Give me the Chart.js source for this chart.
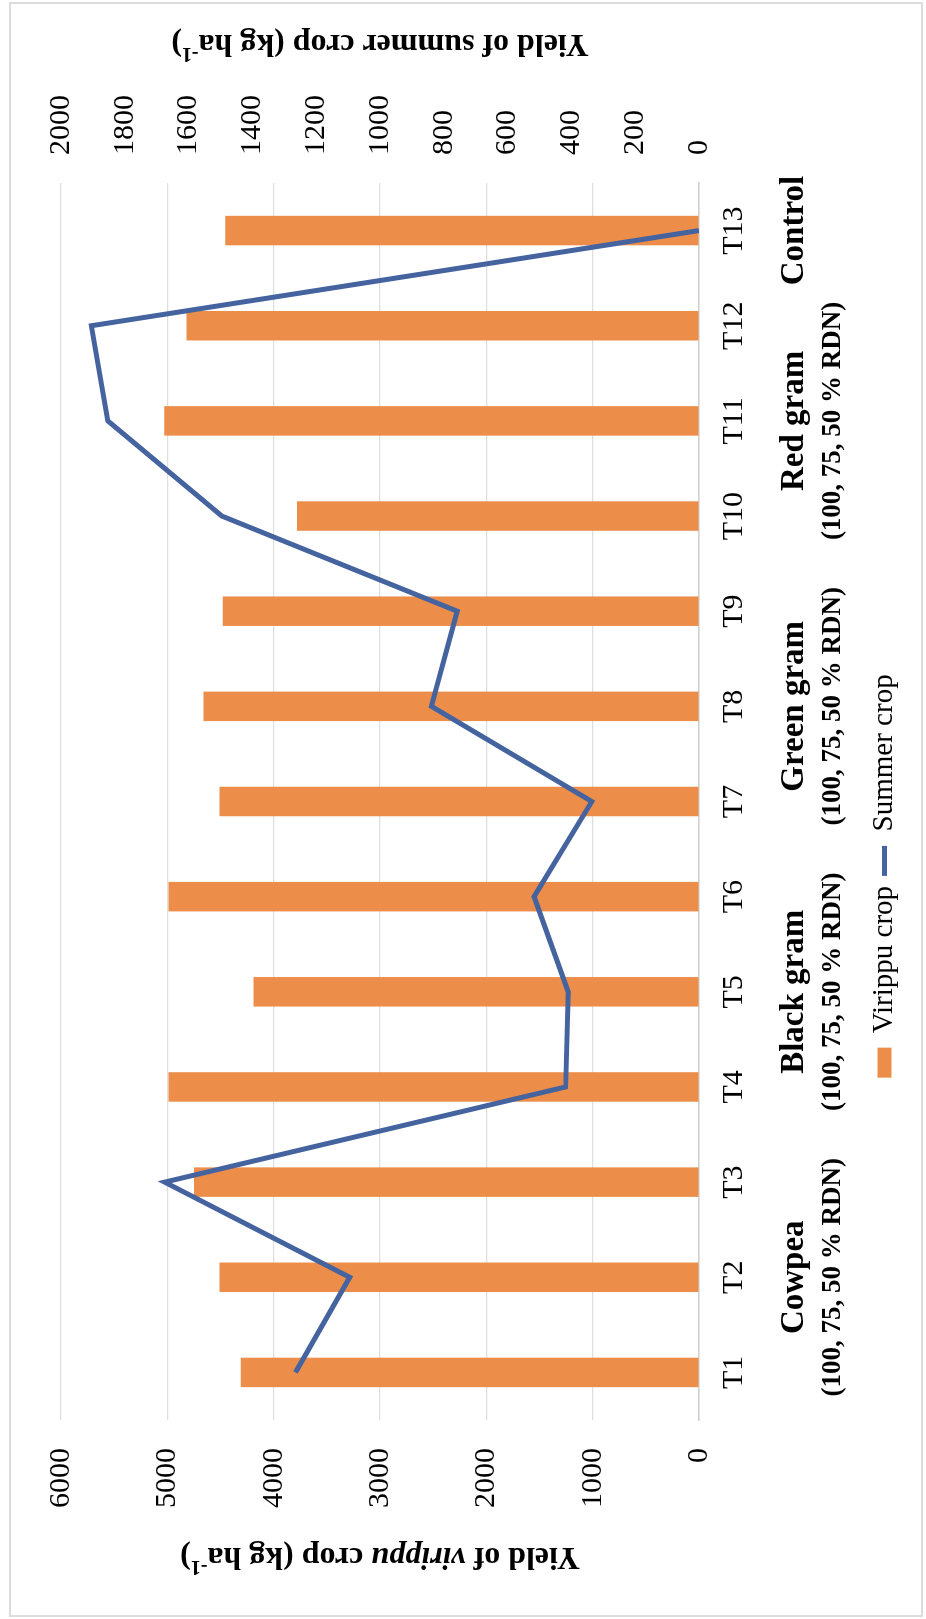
<!DOCTYPE html>
<html>
<head>
<meta charset="utf-8">
<script src="https://cdn.jsdelivr.net/npm/chart.js@4.4.1/dist/chart.umd.min.js"></script>
<style>
  html, body { margin: 0; padding: 0; background: #ffffff; overflow: hidden; width: 926px; height: 1619px; }
  #frame { position: absolute; left: 9px; top: 2px; width: 910px; height: 1611px; border: 2px solid #dcdcdc; }
  #wrap { position: absolute; left: 0; top: 0; width: 1619px; height: 926px;
          transform-origin: 0 0; transform: translate(0px, 1619px) rotate(-90deg); }
  canvas { display: block; }
</style>
</head>
<body>
<div id="frame"></div>
<div id="wrap"><canvas id="c" width="1619" height="926"></canvas></div>
<script>
// ---- data ----
const categories = ['T1','T2','T3','T4','T5','T6','T7','T8','T9','T10','T11','T12','T13'];
const virippuYield = [4310, 4510, 4750, 4990, 4190, 4990, 4510, 4660, 4480, 3780, 5030, 4820, 4455];
const summerYield  = [1265, 1095, 1675, 418, 410, 517, 336, 839, 758, 1496, 1853, 1905, 0];
const primaryMax = 6000, primaryStep = 1000;
const secondaryMax = 2000, secondaryStep = 200;
const groupTitles = ['Cowpea', 'Black gram', 'Green gram', 'Red gram', 'Control'];
const groupSubtitles = ['(100, 75, 50 % RDN)', '(100, 75, 50 % RDN)', '(100, 75, 50 % RDN)', '(100, 75, 50 % RDN)', ''];
const groupFirst = [0, 3, 6, 9, 12];
const groupLast  = [2, 5, 8, 11, 12];
const seriesNames = ['Virippu crop', 'Summer crop'];

const FAMILY = '"Liberation Serif", "Times New Roman", serif';
const leftTitleParts = [
  {t: 'Yield of ', f: 'bold 32px ' + FAMILY},
  {t: 'virippu', f: 'italic bold 32px ' + FAMILY},
  {t: ' crop (kg ha', f: 'bold 32px ' + FAMILY},
  {t: '-1', f: 'bold 20px ' + FAMILY, sup: true},
  {t: ')', f: 'bold 32px ' + FAMILY}
];
const rightTitleParts = [
  {t: 'Yield of summer crop (kg ha', f: 'bold 32px ' + FAMILY},
  {t: '-1', f: 'bold 20px ' + FAMILY, sup: true},
  {t: ')', f: 'bold 32px ' + FAMILY}
];

function drawRich(ctx, parts, cx, cy, angle) {
  ctx.save();
  ctx.translate(cx, cy);
  ctx.rotate(angle);
  let total = 0;
  parts.forEach(p => { ctx.font = p.f; p.w = ctx.measureText(p.t).width; total += p.w; });
  let x = -total / 2;
  ctx.textAlign = 'left';
  ctx.textBaseline = 'middle';
  ctx.fillStyle = '#000';
  parts.forEach(p => { ctx.font = p.f; ctx.fillText(p.t, x, p.sup ? -10 : 0); x += p.w; });
  ctx.restore();
}

const overlay = {
  id: 'overlay',
  afterLayout(chart) {
    const L = chart.legend;
    if (!L || !L.lineWidths) return;
    const pad = chart.options.plugins.legend.labels.padding;
    const w = L.lineWidths[0];
    const curStart = (L.left + pad + L.right - w) / 2;
    const desiredStart = 743 - (w - pad) / 2;
    const shift = desiredStart - curStart;
    L.left += shift; L.right += shift;
  },
  afterDraw(chart) {
    const ctx = chart.ctx, xs = chart.scales.x, ca = chart.chartArea;
    ctx.save();
    ctx.fillStyle = '#000';
    ctx.textAlign = 'center';
    ctx.textBaseline = 'middle';
    groupTitles.forEach((t, i) => {
      const cx = (xs.getPixelForValue(groupFirst[i]) + xs.getPixelForValue(groupLast[i])) / 2;
      ctx.font = 'bold 33px ' + FAMILY;
      ctx.fillText(t, cx, ca.bottom + 95);
      if (groupSubtitles[i]) {
        ctx.font = 'bold 27px ' + FAMILY;
        ctx.fillText(groupSubtitles[i], cx, ca.bottom + 134);
      }
    });
    ctx.restore();
    const midY = (ca.top + ca.bottom) / 2;
    drawRich(ctx, leftTitleParts, 63, midY, -Math.PI / 2);
    drawRich(ctx, rightTitleParts, chart.width - 43, midY, -Math.PI / 2);
  }
};

const tickFont = {family: FAMILY, size: 30};
const plainNumber = v => String(v);
new Chart(document.getElementById('c'), {
  data: {
    labels: categories,
    datasets: [
      {
        type: 'bar', label: seriesNames[0], data: virippuYield, yAxisID: 'y', order: 1,
        backgroundColor: '#EC8D4A', borderWidth: 0, pointStyle: 'rect',
        barPercentage: 0.31, categoryPercentage: 1.0
      },
      {
        type: 'line', label: seriesNames[1], data: summerYield, yAxisID: 'y1', order: 0,
        borderColor: '#45649F', backgroundColor: '#45649F', borderWidth: 5,
        pointRadius: 0, tension: 0, fill: false, pointStyle: 'line'
      }
    ]
  },
  options: {
    responsive: false,
    animation: false,
    events: [],
    layout: { padding: { top: 61, bottom: 17, left: 0, right: 0 } },
    scales: {
      x: {
        grid: { display: false, drawTicks: false },
        border: { display: true, color: '#d0d0d0', width: 1.5 },
        ticks: { font: tickFont, color: '#000', padding: 17, maxRotation: 0, autoSkip: false },
        afterFit(s) { s.height = 161; }
      },
      y: {
        position: 'left', min: 0, max: primaryMax,
        grid: { color: '#dedede', lineWidth: 1.2, drawTicks: false },
        border: { display: false },
        ticks: { stepSize: primaryStep, font: tickFont, color: '#000', padding: 28, callback: plainNumber },
        afterFit(s) { s.width = 199; }
      },
      y1: {
        position: 'right', min: 0, max: secondaryMax,
        grid: { drawOnChartArea: false, drawTicks: false },
        border: { display: false },
        ticks: { stepSize: secondaryStep, font: tickFont, color: '#000', padding: 28, callback: plainNumber },
        afterFit(s) { s.width = 183; }
      }
    },
    plugins: {
      tooltip: { enabled: false },
      legend: {
        position: 'bottom',
        labels: {
          font: { family: FAMILY, size: 29 }, color: '#000',
          usePointStyle: true, boxHeight: 14, pointStyleWidth: 30, padding: 10,
          sort: (a, b) => a.datasetIndex - b.datasetIndex
        }
      }
    }
  },
  plugins: [overlay]
});
</script>
</body>
</html>
